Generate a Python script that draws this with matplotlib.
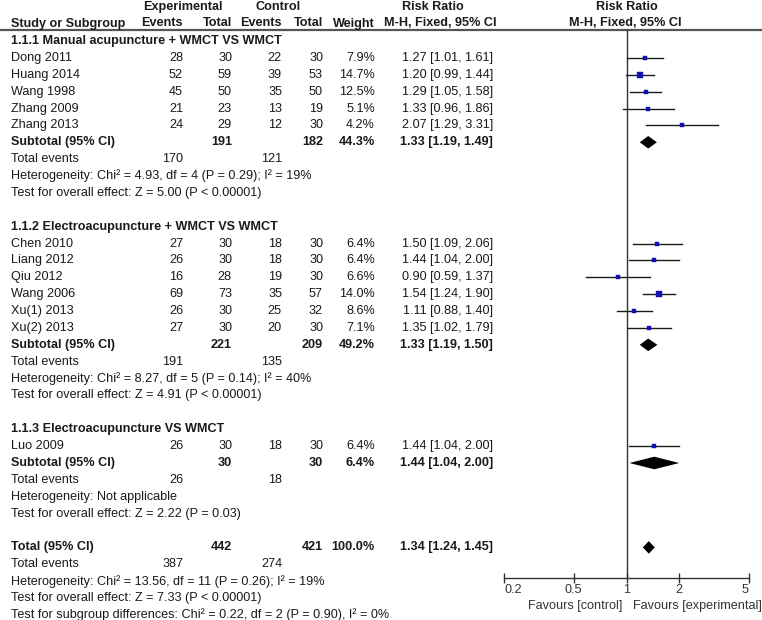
import matplotlib
matplotlib.use("Agg")
import matplotlib.pyplot as plt
import numpy as np

plt.rcParams['font.family'] = ['Liberation Sans', 'DejaVu Sans']

# ---------------- data ----------------
group_titles = ["1.1.1 Manual acupuncture + WMCT VS WMCT",
                "1.1.2 Electroacupuncture + WMCT VS WMCT",
                "1.1.3 Electroacupuncture VS WMCT"]

studies1 = ["Dong 2011", "Huang 2014", "Wang 1998", "Zhang 2009", "Zhang 2013"]
exp_ev1 = [28, 52, 45, 21, 24]
exp_n1 = [30, 59, 50, 23, 29]
ctl_ev1 = [22, 39, 35, 13, 12]
ctl_n1 = [30, 53, 50, 19, 30]
weight1 = [7.9, 14.7, 12.5, 5.1, 4.2]
rr1 = [1.27, 1.20, 1.29, 1.33, 2.07]
lo1 = [1.01, 0.99, 1.05, 0.96, 1.29]
hi1 = [1.61, 1.44, 1.58, 1.86, 3.31]

studies2 = ["Chen 2010", "Liang 2012", "Qiu 2012", "Wang 2006", "Xu(1) 2013", "Xu(2) 2013"]
exp_ev2 = [27, 26, 16, 69, 26, 27]
exp_n2 = [30, 30, 28, 73, 30, 30]
ctl_ev2 = [18, 18, 19, 35, 25, 20]
ctl_n2 = [30, 30, 30, 57, 32, 30]
weight2 = [6.4, 6.4, 6.6, 14.0, 8.6, 7.1]
rr2 = [1.50, 1.44, 0.90, 1.54, 1.11, 1.35]
lo2 = [1.09, 1.04, 0.59, 1.24, 0.88, 1.02]
hi2 = [2.06, 2.00, 1.37, 1.90, 1.40, 1.79]

studies3 = ["Luo 2009"]
exp_ev3 = [26]
exp_n3 = [30]
ctl_ev3 = [18]
ctl_n3 = [30]
weight3 = [6.4]
rr3 = [1.44]
lo3 = [1.04]
hi3 = [2.00]

sub_exp_n = [191, 221, 30]
sub_ctl_n = [182, 209, 30]
sub_weight = [44.3, 49.2, 6.4]
sub_rr = [1.33, 1.33, 1.44]
sub_lo = [1.19, 1.19, 1.04]
sub_hi = [1.49, 1.50, 2.00]
sub_exp_ev = [170, 191, 26]
sub_ctl_ev = [121, 135, 18]
sub_het = ["Heterogeneity: Chi\u00b2 = 4.93, df = 4 (P = 0.29); I\u00b2 = 19%",
           "Heterogeneity: Chi\u00b2 = 8.27, df = 5 (P = 0.14); I\u00b2 = 40%",
           "Heterogeneity: Not applicable"]
sub_test = ["Test for overall effect: Z = 5.00 (P < 0.00001)",
            "Test for overall effect: Z = 4.91 (P < 0.00001)",
            "Test for overall effect: Z = 2.22 (P = 0.03)"]

tot_exp_n, tot_ctl_n, tot_weight = 442, 421, 100.0
tot_rr, tot_lo, tot_hi = 1.34, 1.24, 1.45
tot_exp_ev, tot_ctl_ev = 387, 274
tot_het = "Heterogeneity: Chi\u00b2 = 13.56, df = 11 (P = 0.26); I\u00b2 = 19%"
tot_test = "Test for overall effect: Z = 7.33 (P < 0.00001)"
tot_sub = "Test for subgroup differences: Chi\u00b2 = 0.22, df = 2 (P = 0.90), I\u00b2 = 0%"

axis_ticks = [0.2, 0.5, 1, 2, 5]
axis_ticklabels = ["0.2", "0.5", "1", "2", "5"]

groups = [
    (studies1, exp_ev1, exp_n1, ctl_ev1, ctl_n1, weight1, rr1, lo1, hi1),
    (studies2, exp_ev2, exp_n2, ctl_ev2, ctl_n2, weight2, rr2, lo2, hi2),
    (studies3, exp_ev3, exp_n3, ctl_ev3, ctl_n3, weight3, rr3, lo3, hi3),
]

# ---------------- layout ----------------
W, H = 762, 620
fig = plt.figure(figsize=(W / 100, H / 100), dpi=100)
ax = fig.add_axes([0, 0, 1, 1])
ax.set_xlim(0, W)
ax.set_ylim(H, 0)
ax.axis('off')

ROW0, DY = 41.0, 16.88
def ypix(r):
    return ROW0 + DY * r

FS = 9.1
TXT = '#1a1a1a'
X_NAME = 11
X_EEV, X_EN, X_CEV, X_CN, X_W, X_CI = 183, 232, 282, 323, 375, 493

def txt(x, r, s, ha='left', bold=False, **kw):
    ax.text(x, ypix(r), s, ha=ha, va='center', fontsize=FS, color=TXT,
            fontweight='bold' if bold else 'normal', **kw)

# headers
ax.text(183, 7, "Experimental", ha='center', va='center', fontsize=FS, fontweight='bold', color=TXT)
ax.text(278, 7, "Control", ha='center', va='center', fontsize=FS, fontweight='bold', color=TXT)
ax.text(433, 7, "Risk Ratio", ha='center', va='center', fontsize=FS, fontweight='bold', color=TXT)
ax.text(627, 7, "Risk Ratio", ha='center', va='center', fontsize=FS, fontweight='bold', color=TXT)
hy = 23.5
ax.text(X_NAME, hy, "Study or Subgroup", ha='left', va='center', fontsize=FS, fontweight='bold', color=TXT)
for x, s in [(X_EEV, "Events"), (X_EN, "Total"), (X_CEV, "Events"), (X_CN, "Total"), (X_W, "Weight")]:
    ax.text(x, hy, s, ha='right', va='center', fontsize=FS, fontweight='bold', color=TXT)
ax.text(440, hy, "M-H, Fixed, 95% CI", ha='center', va='center', fontsize=FS, fontweight='bold', color=TXT)
ax.text(625, hy, "M-H, Fixed, 95% CI", ha='center', va='center', fontsize=FS, fontweight='bold', color=TXT)
ax.plot([0, W], [29.5, 29.5], color='#555555', lw=1.6, solid_capstyle='butt')

# forest axes
fx0, fx1 = 504, 749
fy_top, fy_bot = 29.5, 578
fax = fig.add_axes([fx0 / W, (H - fy_bot) / H, (fx1 - fx0) / W, (fy_bot - fy_top) / H])
fax.set_xscale('log')
fax.set_xlim(0.2, 5)
fax.set_ylim(fy_bot, fy_top)
fax.patch.set_alpha(0)
for s in ['top', 'left', 'right']:
    fax.spines[s].set_visible(False)
fax.spines['bottom'].set_color('#333333')
fax.spines['bottom'].set_linewidth(1.0)
fax.set_yticks([])
fax.set_xticks(axis_ticks)
fax.set_xticklabels(axis_ticklabels)
fax.minorticks_off()
fax.tick_params(axis='x', direction='inout', length=7, width=1.0, color='#333333',
                labelsize=FS, labelcolor='#333333', pad=1)
labs = fax.get_xticklabels()
labs[0].set_ha('left')
labs[-1].set_ha('right')
fax.axvline(1, color='#333333', lw=1.0)

BLUE = '#1010b0'

def box_size(w):
    # marker side in points, grows with study weight
    return (2.4 + 0.2 * w) / 1.39

def diamond(r, est, lo, hi, half=6.3):
    y = ypix(r)
    fax.fill([lo, est, hi, est], [y, y - half, y, y + half], color='black', lw=0)

row = 0
for g, (names, eev, en, cev, cn, w, rr, lo, hi) in enumerate(groups):
    txt(X_NAME, row, group_titles[g], bold=True)
    row += 1
    for i in range(len(names)):
        txt(X_NAME, row, names[i])
        txt(X_EEV, row, str(eev[i]), ha='right')
        txt(X_EN, row, str(en[i]), ha='right')
        txt(X_CEV, row, str(cev[i]), ha='right')
        txt(X_CN, row, str(cn[i]), ha='right')
        txt(X_W, row, f"{w[i]:.1f}%", ha='right')
        txt(X_CI, row, f"{rr[i]:.2f} [{lo[i]:.2f}, {hi[i]:.2f}]", ha='right')
        fax.plot([lo[i], hi[i]], [ypix(row), ypix(row)], color='#1a1a1a', lw=1.0)
        fax.plot([rr[i]], [ypix(row)], marker='s', color=BLUE, markersize=box_size(w[i]),
                 mew=0.3, mec=BLUE)
        row += 1
    txt(X_NAME, row, "Subtotal (95% CI)", bold=True)
    txt(X_EN, row, str(sub_exp_n[g]), ha='right', bold=True)
    txt(X_CN, row, str(sub_ctl_n[g]), ha='right', bold=True)
    txt(X_W, row, f"{sub_weight[g]:.1f}%", ha='right', bold=True)
    txt(X_CI, row, f"{sub_rr[g]:.2f} [{sub_lo[g]:.2f}, {sub_hi[g]:.2f}]", ha='right', bold=True)
    diamond(row, sub_rr[g], sub_lo[g], sub_hi[g])
    row += 1
    txt(X_NAME, row, "Total events")
    txt(X_EEV, row, str(sub_exp_ev[g]), ha='right')
    txt(X_CEV, row, str(sub_ctl_ev[g]), ha='right')
    row += 1
    txt(X_NAME, row, sub_het[g])
    row += 1
    txt(X_NAME, row, sub_test[g])
    row += 2

txt(X_NAME, row, "Total (95% CI)", bold=True)
txt(X_EN, row, str(tot_exp_n), ha='right', bold=True)
txt(X_CN, row, str(tot_ctl_n), ha='right', bold=True)
txt(X_W, row, f"{tot_weight:.1f}%", ha='right', bold=True)
txt(X_CI, row, f"{tot_rr:.2f} [{tot_lo:.2f}, {tot_hi:.2f}]", ha='right', bold=True)
diamond(row, tot_rr, tot_lo, tot_hi)
row += 1
txt(X_NAME, row, "Total events")
txt(X_EEV, row, str(tot_exp_ev), ha='right')
txt(X_CEV, row, str(tot_ctl_ev), ha='right')
row += 1
txt(X_NAME, row, tot_het)
row += 1
txt(X_NAME, row, tot_test)
row += 1
txt(X_NAME, row, tot_sub)

ax.text(622, 606, "Favours [control]", ha='right', va='center', fontsize=FS, color='#333333')
ax.text(633, 606, "Favours [experimental]", ha='left', va='center', fontsize=FS, color='#333333')

fig.savefig("out.png", dpi=100)
